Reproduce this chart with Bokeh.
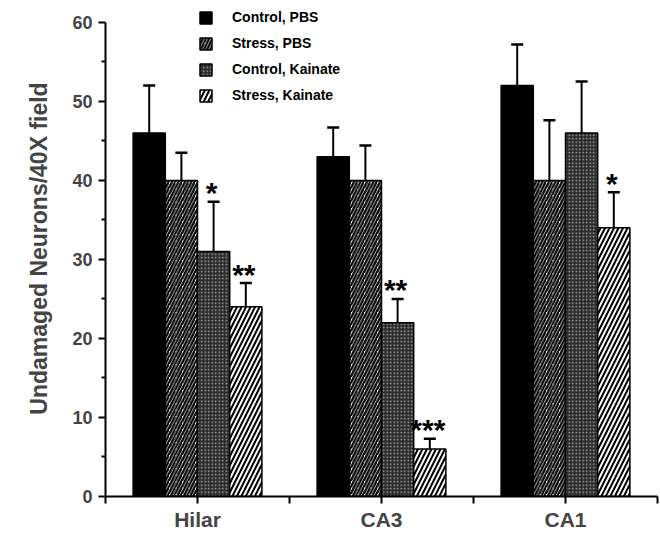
from bokeh.plotting import figure
from bokeh.models import (ColumnDataSource, Range1d, FixedTicker, Whisker, TeeHead,
                          Legend, LegendItem)
from bokeh.core.properties import value
from bokeh.embed import file_html
from bokeh.resources import INLINE

# ---- data ----
categories = ["Hilar", "CA3", "CA1"]
groups = ["Control, PBS", "Stress, PBS", "Control, Kainate", "Stress, Kainate"]
control_pbs = [46, 43, 52]
stress_pbs = [40, 40, 40]
control_kainate = [31, 22, 46]
stress_kainate = [24, 6, 34]
err_control_pbs = [6.0, 3.7, 5.2]
err_stress_pbs = [3.5, 4.4, 7.6]
err_control_kainate = [6.3, 3.0, 6.5]
err_stress_kainate = [3.0, 1.3, 4.5]
stars_control_pbs = ["", "", ""]
stars_stress_pbs = ["", "", ""]
stars_control_kainate = ["*", "**", ""]
stars_stress_kainate = ["**", "***", "*"]
y_ticks = [0, 10, 20, 30, 40, 50, 60]

series = [control_pbs, stress_pbs, control_kainate, stress_kainate]
errors = [err_control_pbs, err_stress_pbs, err_control_kainate, err_stress_kainate]
stars = [stars_control_pbs, stars_stress_pbs, stars_control_kainate, stars_stress_kainate]

styles = [
    dict(fill_color="black"),
    dict(fill_color="white", hatch_pattern="right_diagonal_line", hatch_color="black",
         hatch_scale=6.5, hatch_weight=2.3),
    dict(fill_color="#2a2a2a", hatch_pattern="dot", hatch_color="#a8a8a8",
         hatch_scale=3.5, hatch_weight=1),
    dict(fill_color="white", hatch_pattern="right_diagonal_line", hatch_color="black",
         hatch_scale=9, hatch_weight=2.0),
]

FONT = "Liberation Sans"
bar_w = 0.35
top_pad = 2.76  # room above the 60 tick for the legend (px -> data units)

p = figure(width=660, height=533, x_range=Range1d(0, 6),
           y_range=Range1d(0, y_ticks[-1] + top_pad),
           output_backend="svg", toolbar_location=None,
           min_border_left=105, min_border_right=3, min_border_top=0, min_border_bottom=33)
p.outline_line_color = None
p.xgrid.visible = False
p.ygrid.visible = False
p.background_fill_color = "white"
p.border_fill_color = "white"

centers = [2 * i + 1 for i in range(len(categories))]
items = []
for k, (vals, errs, st, sty) in enumerate(zip(series, errors, stars, styles)):
    off = (k - 1.5) * bar_w
    xs = [c + off for c in centers]
    src = ColumnDataSource(dict(x=xs, top=vals, upper=[v + e for v, e in zip(vals, errs)],
                                stars=st))
    r = p.vbar(x="x", top="top", width=bar_w, bottom=0, source=src,
               line_color="black", line_width=1.5, **sty)
    items.append(LegendItem(label=groups[k], renderers=[r]))
    wh = Whisker(base="x", upper="upper", lower="top", source=src,
                 upper_head=TeeHead(size=12, line_width=2.5, line_color="black"),
                 lower_head=None, line_width=2, line_color="black")
    p.add_layout(wh)
    p.text(x="x", y="upper", text="stars", source=src, text_align="center",
           text_baseline="alphabetic", y_offset=-9, x_offset=-2,
           text_font=value(FONT), text_font_style="bold", text_font_size="30px",
           text_color="black")

legend = Legend(items=items, location=(93, 393), orientation="vertical",
                border_line_color=None, background_fill_alpha=0, padding=0, margin=0,
                glyph_width=15, glyph_height=15, label_standoff=19, spacing=10,
                label_height=15, label_text_font=FONT, label_text_font_size="14px",
                label_text_font_style="bold", label_text_color="black")
p.add_layout(legend)

# y axis
ya = p.yaxis[0]
ya.ticker = FixedTicker(ticks=y_ticks, minor_ticks=[5, 15, 25, 35, 45, 55])
ya.bounds = (y_ticks[0], y_ticks[-1])
ya.axis_label = "Undamaged Neurons/40X field"
ya.axis_label_text_font = FONT
ya.axis_label_text_font_style = "bold"
ya.axis_label_text_font_size = "23px"
ya.axis_label_standoff = 17
ya.major_label_text_font = FONT
ya.major_label_text_font_style = "bold"
ya.major_label_text_font_size = "18px"
ya.major_label_standoff = 6
ya.axis_line_width = 2
ya.major_tick_line_width = 2
ya.minor_tick_line_width = 2
ya.major_tick_out = 7
ya.major_tick_in = 0
ya.minor_tick_out = 4
ya.minor_tick_in = 0

# x axis
xa = p.xaxis[0]
xa.ticker = FixedTicker(ticks=centers, minor_ticks=[0, 2, 4, 6])
xa.major_label_overrides = {c: n for c, n in zip(centers, categories)}
xa.major_label_text_font = FONT
xa.major_label_text_font_style = "bold"
xa.major_label_text_font_size = "21px"
xa.major_label_standoff = 4
xa.axis_line_width = 2
xa.major_tick_line_width = 2
xa.minor_tick_line_width = 2
xa.major_tick_out = 7
xa.major_tick_in = 0
xa.minor_tick_out = 7
xa.minor_tick_in = 0

open("out.html", "w").write(file_html(p, INLINE))
